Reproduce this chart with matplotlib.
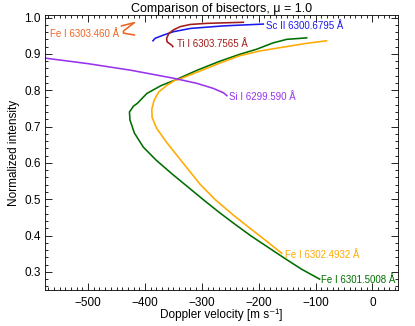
import matplotlib
matplotlib.use("Agg")
import matplotlib.pyplot as plt
from matplotlib.ticker import MultipleLocator

plt.rcParams['font.family'] = ['Liberation Sans', 'DejaVu Sans']

# bisectors: Doppler velocity [m/s] vs normalized intensity
fe6301_v = [-92.8, -124.3, -154.1, -183.9, -213.7, -241.7, -269.7, -297.7, -324.0, -352.0,
            -380.0, -402.8, -418.6, -426.4, -427.3, -420.3, -413.3, -396.7, -371.3, -346.8,
            -308.2, -268.0, -232.9, -203.2, -175.1, -150.6, -115.6]
fe6301_i = [0.280, 0.307, 0.337, 0.368, 0.399, 0.431, 0.464, 0.499, 0.533, 0.569,
            0.607, 0.643, 0.682, 0.718, 0.740, 0.756, 0.764, 0.791, 0.813, 0.828,
            0.855, 0.880, 0.899, 0.913, 0.930, 0.940, 0.944]

fe6302_v = [-159.4, -187.4, -215.4, -245.2, -276.7, -303.0, -332.7, -360.8, -379.5, -387.5,
            -388.0, -384.0, -376.0, -360.8, -346.8, -341.5, -303.0, -264.4, -232.9, -197.9,
            -162.9, -115.6, -80.6]
fe6302_i = [0.351, 0.386, 0.420, 0.457, 0.499, 0.541, 0.599, 0.654, 0.695, 0.725,
            0.748, 0.772, 0.795, 0.814, 0.828, 0.829, 0.853, 0.877, 0.895, 0.908,
            0.917, 0.929, 0.936]

si6299_v = [-574, -500, -425, -350, -309, -280, -262, -256]
si6299_i = [0.888, 0.873, 0.855, 0.833, 0.819, 0.805, 0.793, 0.785]

sc6300_v = [-386, -382, -367, -350, -320, -262, -192]
sc6300_i = [0.936, 0.943, 0.952, 0.961, 0.970, 0.977, 0.982]

ti6303_v = [-227, -291, -320, -338, -350, -358, -362, -361, -353, -351]
ti6303_i = [0.987, 0.984, 0.981, 0.975, 0.966, 0.956, 0.943, 0.933, 0.924, 0.920]

fe6303_v = [-441.3, -418.6, -437.8, -437.8, -418.6]
fe6303_i = [0.977, 0.986, 0.963, 0.957, 0.952]

fig = plt.figure(figsize=(4.15, 3.26), dpi=100)
ax = fig.add_axes([0.1096, 0.1104, 0.8494, 0.8436])

lines = [
    (fe6301_v, fe6301_i, '#006e00', 'Fe I 6301.5008 Å'),
    (fe6302_v, fe6302_i, '#ffaa00', 'Fe I 6302.4932 Å'),
    (si6299_v, si6299_i, '#9933ee', 'Si I 6299.590 Å'),
    (sc6300_v, sc6300_i, '#1a1aee', 'Sc II 6300.6795 Å'),
    (ti6303_v, ti6303_i, '#a31a1a', 'Ti I 6303.7565 Å'),
    (fe6303_v, fe6303_i, '#f06422', 'Fe I 6303.460 Å'),
]
for v, i, c, lab in lines:
    ax.plot(v, i, color=c, lw=1.15, solid_joinstyle='round')

fs = 7.0
ax.text(-90, 0.277, lines[0][3], color=lines[0][2], fontsize=fs, ha='left', va='center')
ax.text(-154, 0.346, lines[1][3], color=lines[1][2], fontsize=fs, ha='left', va='center')
ax.text(-252, 0.782, lines[2][3], color=lines[2][2], fontsize=fs, ha='left', va='center')
ax.text(-188, 0.977, lines[3][3], color=lines[3][2], fontsize=fs, ha='left', va='center')
ax.text(-344, 0.928, lines[4][3], color=lines[4][2], fontsize=fs, ha='left', va='center')
ax.text(-445, 0.956, lines[5][3], color=lines[5][2], fontsize=fs, ha='right', va='center')

ax.set_xlim(-575, 45)
ax.set_ylim(0.25, 1.007)
ax.xaxis.set_major_locator(MultipleLocator(100))
ax.xaxis.set_minor_locator(MultipleLocator(10))
ax.yaxis.set_major_locator(MultipleLocator(0.1))
ax.yaxis.set_minor_locator(MultipleLocator(0.02))
ax.tick_params(which='both', direction='in', top=True, right=True, labelsize=8.5, width=0.6)
ax.tick_params(which='major', length=5)
ax.tick_params(which='minor', length=2.5)
ax.tick_params(axis='x', pad=5)
for s in ax.spines.values():
    s.set_linewidth(0.6)

ax.set_xlabel('Doppler velocity [m s\u207b\u00b9]', fontsize=8.5, labelpad=0)
ax.set_ylabel('Normalized intensity', fontsize=8.5, labelpad=3)
ax.set_title('Comparison of bisectors, \u03bc = 1.0', fontsize=9, pad=2)

fig.savefig('out.png', dpi=100)
